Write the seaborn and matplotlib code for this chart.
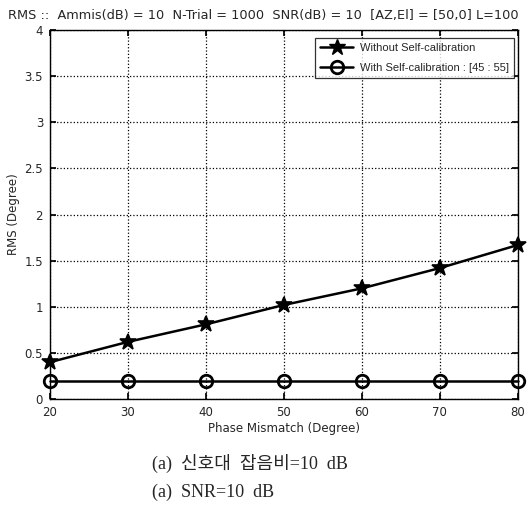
import numpy as np
import seaborn as sns
import matplotlib.pyplot as plt
import pandas as pd
from matplotlib.lines import Line2D

mismatch = [20, 30, 40, 50, 60, 70, 80]
rms_without = [0.40, 0.62, 0.81, 1.02, 1.20, 1.42, 1.67]
rms_with = [0.20, 0.20, 0.20, 0.20, 0.20, 0.20, 0.20]
y_ticks = [0, 0.5, 1, 1.5, 2, 2.5, 3, 3.5, 4]
y_tick_labels = ['0', '0.5', '1', '1.5', '2', '2.5', '3', '3.5', '4']

LABEL1 = 'Without Self-calibration'
LABEL2 = 'With Self-calibration : [45 : 55]'

df = pd.concat([
    pd.DataFrame({'x': mismatch, 'y': rms_without, 'label': LABEL1}),
    pd.DataFrame({'x': mismatch, 'y': rms_with, 'label': LABEL2}),
], ignore_index=True)

sns.set_theme(style='white')
plt.rcParams['font.family'] = ['DejaVu Sans']

fig = plt.figure(figsize=(5.28, 5.09), dpi=100)
ax = fig.add_axes([0.0947, 0.216, 0.886, 0.725])

sns.lineplot(data=df, x='x', y='y', hue='label', style='label',
             markers={LABEL1: '*', LABEL2: 'o'}, dashes=False,
             palette={LABEL1: 'black', LABEL2: 'black'},
             linewidth=1.8, ax=ax, legend=False, clip_on=False)
for line in ax.get_lines():
    star = line.get_marker() == '*'
    line.set_markersize(12 if star else 9)
    line.set_markerfacecolor('black' if star else 'none')
    line.set_markeredgecolor('black')
    line.set_markeredgewidth(1.2 if star else 2)
    line.set_zorder(5)

ax.set_xlim(20, 80)
ax.set_ylim(0, 4)
ax.set_xticks(mismatch)
ax.set_yticks(y_ticks)
ax.set_yticklabels(y_tick_labels)
ax.grid(True, color='black', linestyle=':', linewidth=0.9)
ax.tick_params(labelsize=8.5, direction='in', length=4, color='black',
               bottom=True, left=True, top=True, right=True)
ax.tick_params(axis='x', pad=5)
ax.tick_params(axis='y', pad=5)
for sp in ax.spines.values():
    sp.set_color('black')
    sp.set_linewidth(1.0)
ax.set_xlabel('Phase Mismatch (Degree)', fontsize=8.5, labelpad=2)
ax.set_ylabel('RMS (Degree)', fontsize=8.5, labelpad=3)

handles = [
    Line2D([], [], color='black', lw=1.8, marker='*', ms=12, mfc='black', mec='black'),
    Line2D([], [], color='black', lw=1.8, marker='o', ms=9, mfc='none', mec='black', mew=2),
]
leg = ax.legend(handles, [LABEL1, LABEL2], loc='upper right',
                bbox_to_anchor=(0.992, 0.978),
                prop={'family': 'Liberation Sans', 'size': 8},
                frameon=True, fancybox=False, edgecolor='black',
                borderaxespad=0, handlelength=3.0, handletextpad=0.6,
                labelspacing=0.9, borderpad=0.45)
leg.get_frame().set_linewidth(0.9)

fig.text(0.015, 0.957, 'RMS ::  Ammis(dB) = 10  N-Trial = 1000  SNR(dB) = 10  [AZ,El] = [50,0] L=100',
         fontsize=9.3, ha='left', va='bottom')

cap_font = ['Liberation Serif', 'Noto Sans CJK KR']
fig.text(0.288, 0.09, '(a)  신호대  잡음비=10  dB', fontsize=13, family=cap_font, ha='left', va='center')
fig.text(0.288, 0.033, '(a)  SNR=10  dB', fontsize=13, family=cap_font, ha='left', va='center')

fig.savefig('out.png', dpi=100)
